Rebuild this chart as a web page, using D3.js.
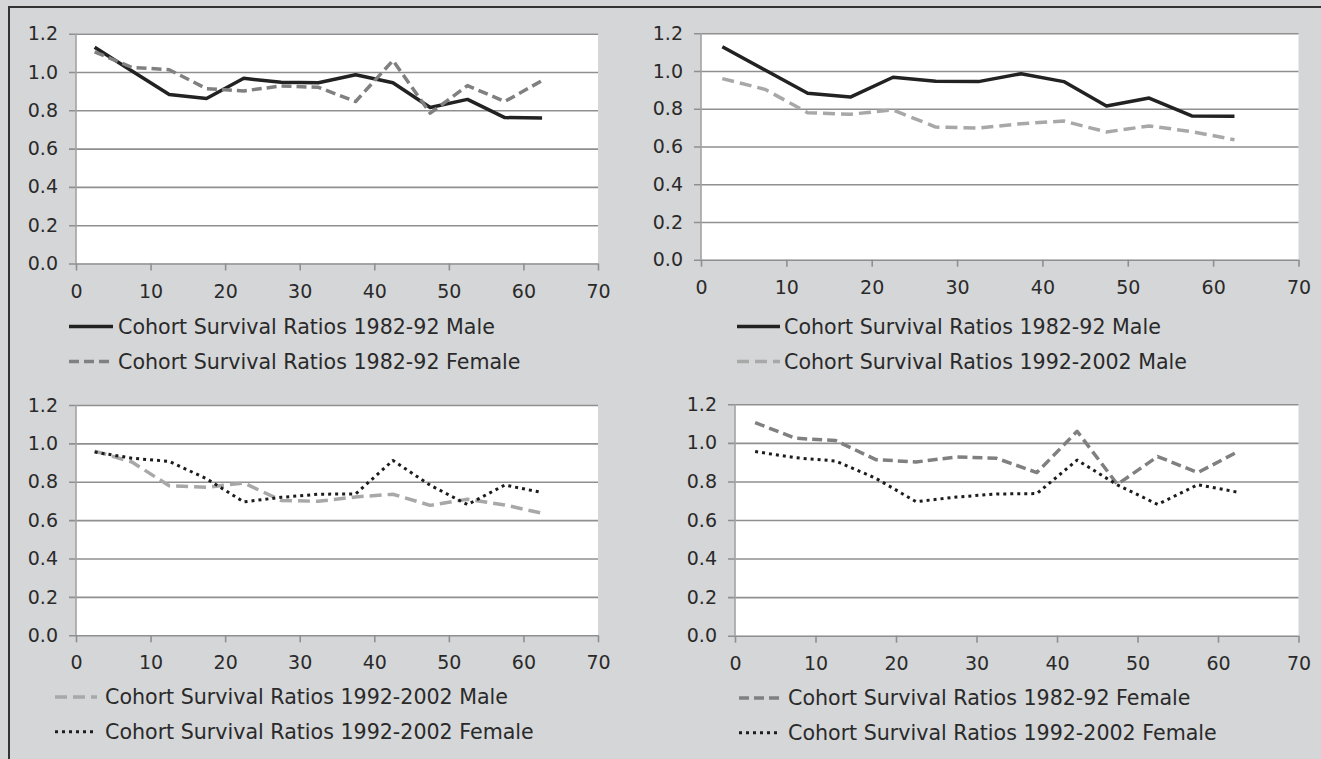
<!DOCTYPE html>
<html>
<head>
<meta charset="utf-8">
<script src="https://cdn.jsdelivr.net/npm/d3@7"></script>
<style>
  body { margin: 0; background: #d5d6d8; }
  svg { display: block; }
  svg text { font-family: "DejaVu Sans", Verdana, sans-serif; }
</style>
</head>
<body>
<div id="chart"></div>
<script>
// age group midpoints
const ages = [2.5, 7.5, 12.5, 17.5, 22.5, 27.5, 32.5, 37.5, 42.5, 47.5, 52.5, 57.5, 62.5];

// cohort survival ratios
const male8292 = [1.129, 1.005, 0.882, 0.862, 0.967, 0.946, 0.944, 0.986, 0.944, 0.815, 0.857, 0.762, 0.760];
const female8292 = [1.105, 1.024, 1.012, 0.913, 0.901, 0.927, 0.920, 0.846, 1.060, 0.785, 0.929, 0.846, 0.955];
const male9202 = [0.960, 0.903, 0.779, 0.771, 0.794, 0.703, 0.698, 0.721, 0.735, 0.677, 0.709, 0.679, 0.636];
const female9202 = [0.955, 0.923, 0.906, 0.816, 0.695, 0.719, 0.735, 0.737, 0.911, 0.782, 0.681, 0.783, 0.744];

const xTicks = [0, 10, 20, 30, 40, 50, 60, 70];
const yTicks = [0, 0.2, 0.4, 0.6, 0.8, 1.0, 1.2];

const seriesNames = {
    m82: "Cohort Survival Ratios 1982-92 Male",
    f82: "Cohort Survival Ratios 1982-92 Female",
    m92: "Cohort Survival Ratios 1992-2002 Male",
    f92: "Cohort Survival Ratios 1992-2002 Female"
};
const seriesValues = { m82: male8292, f82: female8292, m92: male9202, f92: female9202 };

// line styles per series
const styles = {
    m82: { color: "#222222", width: 3.5, dash: null },
    f82: { color: "#808080", width: 3.5, dash: "10,5" },
    m92: { color: "#a8a8a8", width: 3.5, dash: "12,6" },
    f92: { color: "#1c1c1c", width: 3, dash: "3,4" }
};

// panel layout (pixel boxes of each plot + legend placement)
const panels = [
    { keys: ["m82", "f82"], x0: 76, x1: 598, top: 33.7, bottom: 263.5, swX: 69, swW: 44, txX: 118, legY: [326.5, 361.5] },
    { keys: ["m82", "m92"], x0: 701, x1: 1298.5, top: 33.3, bottom: 259.7, swX: 737, swW: 43, txX: 784, legY: [326.5, 361.5] },
    { keys: ["m92", "f92"], x0: 76, x1: 598, top: 405, bottom: 635.3, swX: 55, swW: 42, txX: 105, legY: [697, 731.7] },
    { keys: ["f82", "f92"], x0: 735, x1: 1298.5, top: 404.3, bottom: 635.7, swX: 739, swW: 41, txX: 788, legY: [698, 732.7] }
];

const W = 1321, H = 759;
const tickFont = 19;
const legendFont = 20.6;
const svg = d3.select("#chart").append("svg")
    .attr("width", W)
    .attr("height", H)
    .attr("viewBox", [0, 0, W, H]);

svg.append("rect").attr("width", W).attr("height", H).attr("fill", "#d5d6d8");

// frame (top and left edges only)
svg.append("line").attr("x1", 9).attr("x2", W).attr("y1", 7).attr("y2", 7)
    .attr("stroke", "#333").attr("stroke-width", 2);
svg.append("line").attr("x1", 9).attr("x2", 9).attr("y1", 6).attr("y2", H)
    .attr("stroke", "#333").attr("stroke-width", 2);

const gridColor = "#8f8f8f";
const textColor = "#2a2a2a";

panels.forEach(p => {
    const x = d3.scaleLinear().domain([0, 70]).range([p.x0, p.x1]);
    const y = d3.scaleLinear().domain([0, 1.2]).range([p.bottom, p.top]);
    const g = svg.append("g");

    g.append("rect")
        .attr("x", p.x0).attr("y", p.top)
        .attr("width", p.x1 - p.x0).attr("height", p.bottom - p.top)
        .attr("fill", "#fff");

    // gridlines + y labels
    const yAxis = g.append("g")
        .attr("transform", `translate(${p.x0},0)`)
        .call(d3.axisLeft(y).tickValues(yTicks).tickFormat(d3.format(".1f"))
            .tickSize(-(p.x1 - p.x0)).tickPadding(0));
    yAxis.attr("font-family", null).attr("font-size", null);
    yAxis.select(".domain").remove();
    yAxis.selectAll(".tick line")
        .attr("x1", -7)
        .attr("stroke", gridColor).attr("stroke-width", 1.6);
    yAxis.selectAll(".tick text")
        .attr("x", -18)
        .attr("fill", textColor)
        .style("font-size", tickFont + "px");

    // left axis line
    g.append("line")
        .attr("x1", p.x0).attr("x2", p.x0).attr("y1", p.top).attr("y2", p.bottom)
        .attr("stroke", "#a3a3a3").attr("stroke-width", 1.6);

    // x axis
    const xAxis = g.append("g")
        .attr("transform", `translate(0,${p.bottom})`)
        .call(d3.axisBottom(x).tickValues(xTicks).tickFormat(d3.format("d"))
            .tickSize(7).tickPadding(0));
    xAxis.attr("font-family", null).attr("font-size", null);
    xAxis.select(".domain").remove();
    xAxis.selectAll(".tick line").attr("stroke", gridColor).attr("stroke-width", 1.6);
    xAxis.selectAll(".tick text")
        .attr("y", 34).attr("dy", 0)
        .attr("fill", textColor)
        .style("font-size", tickFont + "px");

    // series
    p.keys.forEach(k => {
        const st = styles[k];
        const pts = ages.map((a, i) => [a, seriesValues[k][i]]);
        const line = d3.line().x(d => x(d[0])).y(d => y(d[1]));
        g.append("path")
            .datum(pts)
            .attr("d", line)
            .attr("fill", "none")
            .attr("stroke", st.color)
            .attr("stroke-width", st.width)
            .attr("stroke-linejoin", "round")
            .attr("stroke-dasharray", st.dash);
    });

    // legend
    p.keys.forEach((k, i) => {
        const st = styles[k];
        const ly = p.legY[i];
        g.append("line")
            .attr("x1", p.swX).attr("x2", p.swX + p.swW)
            .attr("y1", ly).attr("y2", ly)
            .attr("stroke", st.color)
            .attr("stroke-width", st.width)
            .attr("stroke-dasharray", st.dash);
        g.append("text")
            .attr("x", p.txX).attr("y", ly)
            .attr("dy", "0.35em")
            .attr("fill", textColor)
            .style("font-size", legendFont + "px")
            .text(seriesNames[k]);
    });
});
</script>
</body>
</html>
